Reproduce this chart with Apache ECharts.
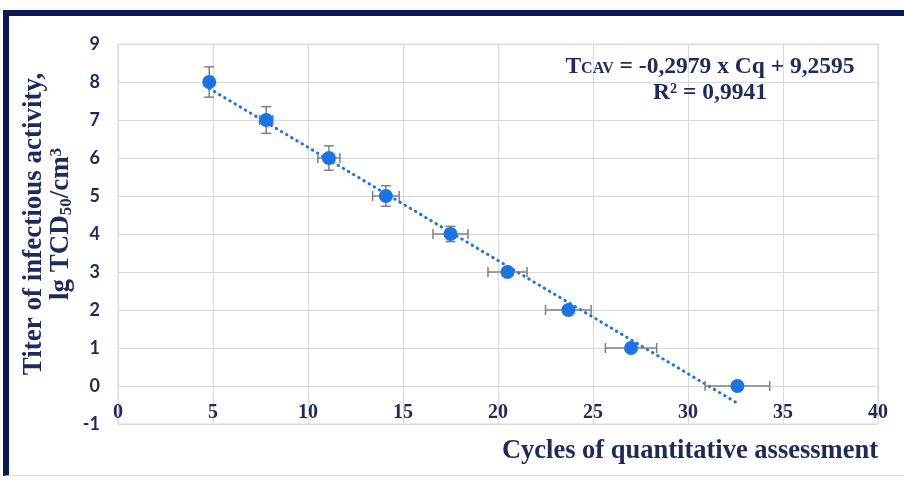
<!DOCTYPE html>
<html>
<head>
<meta charset="utf-8">
<script src="https://cdn.jsdelivr.net/npm/echarts@6/dist/echarts.min.js"></script>
<style>
html,body{margin:0;padding:0;background:#fff;}
#frame{position:absolute;left:3px;top:10px;width:903px;height:466px;border-top:6px solid #0b1a55;border-left:6px solid #0b1a55;border-bottom:1px solid #dcdcdc;box-sizing:border-box;pointer-events:none;z-index:2;}
#chart{position:absolute;left:0;top:0;width:904px;height:482px;}
</style>
</head>
<body>
<div id="chart"></div>
<div id="frame"></div>
<script>
// Data
const cq       = [4.8, 7.8, 11.1, 14.1, 17.5, 20.5, 23.7, 27.0, 32.6];
const titer    = [8, 7, 6, 5, 4, 3, 2, 1, 0];
const cqErr    = [0, 0.35, 0.58, 0.7, 0.92, 1.03, 1.2, 1.35, 1.7];
const titerErr = [0.4, 0.35, 0.32, 0.27, 0.2, 0, 0, 0, 0];
// Trendline coefficients as printed on the chart
const slope = -0.2979;
const intercept = 9.2595;
const xTicks = [0, 5, 10, 15, 20, 25, 30, 35, 40];
const yTicks = [-1, 0, 1, 2, 3, 4, 5, 6, 7, 8, 9];

const navy = '#1c2a5e';
const blue = '#1a74e6';

const points = cq.map((x, i) => [x, titer[i]]);
const errData = cq.map((x, i) => [x, titer[i], cqErr[i], titerErr[i]]);
const xMin = Math.min(...cq), xMax = Math.max(...cq);
const trend = [[xMin, slope * xMin + intercept], [xMax, slope * xMax + intercept]];

const chart = echarts.init(document.getElementById('chart'), null, {renderer: 'canvas'});
chart.setOption({
  animation: false,
  grid: {left: 118, right: 26, top: 44, bottom: 58, show: true, borderColor: '#d9d9d9', borderWidth: 1},
  xAxis: {
    type: 'value', min: xTicks[0], max: xTicks[xTicks.length - 1], interval: 5,
    offset: -38,
    axisLine: {show: true, onZero: false, lineStyle: {color: '#d9d9d9', width: 1}},
    axisTick: {show: false},
    splitLine: {show: true, lineStyle: {color: '#d9d9d9', width: 1}},
    axisLabel: {margin: 17, color: navy, fontFamily: 'Liberation Serif', fontWeight: 'bold', fontSize: 20}
  },
  yAxis: {
    type: 'value', min: yTicks[0], max: yTicks[yTicks.length - 1], interval: 1,
    axisLine: {show: false}, axisTick: {show: false},
    splitLine: {show: true, lineStyle: {color: '#d9d9d9', width: 1}},
    axisLabel: {margin: 18, color: navy, fontFamily: 'Lato', fontWeight: 'bold', fontSize: 18}
  },
  series: [
    {
      type: 'line', data: trend, symbol: 'none', z: 3,
      lineStyle: {color: blue, width: 3, type: [0.5, 5.5], cap: 'round'}
    },
    {
      type: 'custom', z: 4, data: errData,
      renderItem: function (params, api) {
        const x = api.value(0), y = api.value(1), ex = api.value(2), ey = api.value(3);
        const c = '#808080', lw = 1.5, cap = 5;
        const children = [];
        if (ex > 0) {
          const a = api.coord([x - ex, y]), b = api.coord([x + ex, y]);
          children.push({type: 'line', shape: {x1: a[0], y1: a[1], x2: b[0], y2: b[1]}, style: {stroke: c, lineWidth: lw}});
          children.push({type: 'line', shape: {x1: a[0], y1: a[1] - cap, x2: a[0], y2: a[1] + cap}, style: {stroke: c, lineWidth: lw}});
          children.push({type: 'line', shape: {x1: b[0], y1: b[1] - cap, x2: b[0], y2: b[1] + cap}, style: {stroke: c, lineWidth: lw}});
        }
        if (ey > 0) {
          const a = api.coord([x, y - ey]), b = api.coord([x, y + ey]);
          children.push({type: 'line', shape: {x1: a[0], y1: a[1], x2: b[0], y2: b[1]}, style: {stroke: c, lineWidth: lw}});
          children.push({type: 'line', shape: {x1: a[0] - cap, y1: a[1], x2: a[0] + cap, y2: a[1]}, style: {stroke: c, lineWidth: lw}});
          children.push({type: 'line', shape: {x1: b[0] - cap, y1: b[1], x2: b[0] + cap, y2: b[1]}, style: {stroke: c, lineWidth: lw}});
        }
        return {type: 'group', children: children};
      }
    },
    {
      type: 'scatter', data: points, z: 5, symbol: 'circle', symbolSize: 14,
      itemStyle: {color: blue, opacity: 1}
    }
  ],
  graphic: [
    {
      type: 'text', x: 48, y: 224, rotation: Math.PI / 2, z: 10,
      style: {
        text: '{a|Titer of infectious activity,}\n{a|lg TCD}{b|50}{a|/cm}{c|3}',
        textAlign: 'center', textVerticalAlign: 'middle',
        rich: {
          a: {fontFamily: 'Liberation Serif', fontWeight: 'bold', fontSize: 27, fill: navy, lineHeight: 27},
          b: {fontFamily: 'Liberation Serif', fontWeight: 'bold', fontSize: 17, fill: navy, lineHeight: 27, verticalAlign: 'bottom'},
          c: {fontFamily: 'Liberation Serif', fontWeight: 'bold', fontSize: 17, fill: navy, lineHeight: 27, verticalAlign: 'top'}
        }
      }
    },
    {
      type: 'text', x: 878, y: 451, z: 10,
      style: {
        text: 'Cycles of quantitative assessment',
        textAlign: 'right', textVerticalAlign: 'middle',
        fontFamily: 'Liberation Serif', fontWeight: 'bold', fontSize: 26.5, fill: navy
      }
    },
    {
      type: 'text', x: 710, y: 80, z: 10,
      style: {
        text: '{t|T}{s|CAV}{t| = -0,2979 x Cq + 9,2595}\n{t|R² = 0,9941}',
        textAlign: 'center', textVerticalAlign: 'middle',
        rich: {
          t: {fontFamily: 'Liberation Serif', fontWeight: 'bold', fontSize: 23.5, fill: navy, lineHeight: 26},
          s: {fontFamily: 'Liberation Serif', fontWeight: 'bold', fontSize: 16, fill: navy, lineHeight: 16, verticalAlign: 'bottom', padding: [0, 0, 3, 0]}
        }
      }
    }
  ]
});
</script>
</body>
</html>
